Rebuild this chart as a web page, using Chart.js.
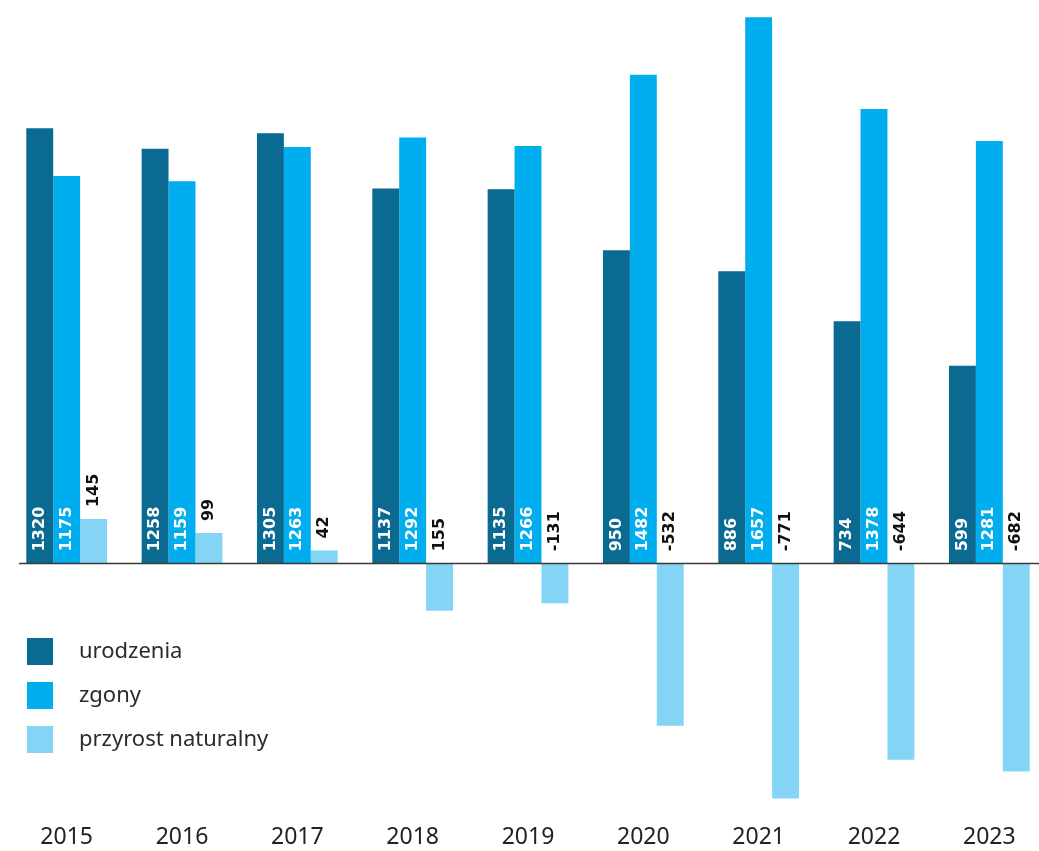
<!DOCTYPE html>
<html>
<head>
<meta charset="utf-8">
<script src="https://cdn.jsdelivr.net/npm/chart.js@4"></script>
<style>
  html, body { margin: 0; padding: 0; background: #fff; overflow: hidden; }
  #wrap { width: 1048px; height: 851px; }
</style>
</head>
<body>
<div id="wrap"><canvas id="chart"></canvas></div>
<script>
var years = ['2015', '2016', '2017', '2018', '2019', '2020', '2021', '2022', '2023'];
var urodzenia = [1320, 1258, 1305, 1137, 1135, 950, 886, 734, 599];
var zgony = [1175, 1159, 1263, 1292, 1266, 1482, 1657, 1378, 1281];
var przyrost = [145, 99, 42, -155, -131, -532, -771, -644, -682];
// labels as printed in the source (2018 has no minus sign there)
var przyrostLabels = ['145', '99', '42', '155', '-131', '-532', '-771', '-644', '-682'];

var colors = ['#0a6a92', '#00adee', '#84d5f5'];

var valueLabels = {
  id: 'valueLabels',
  afterDatasetsDraw: function (chart) {
    var ctx = chart.ctx;
    ctx.save();
    ctx.font = 'bold 16px "DejaVu Sans"';
    ctx.textBaseline = 'middle';
    chart.data.datasets.forEach(function (ds, i) {
      var meta = chart.getDatasetMeta(i);
      var zeroY = chart.scales.y.getPixelForValue(0);
      meta.data.forEach(function (bar, j) {
        var v = ds.data[j];
        var txt, y;
        if (i < 2) {
          ctx.fillStyle = '#ffffff';
          txt = String(v);
          y = zeroY - 12;
        } else {
          ctx.fillStyle = '#111111';
          txt = przyrostLabels[j];
          y = v > 0 ? bar.y - 12 : zeroY - 12;
        }
        ctx.save();
        ctx.translate(bar.x, y);
        ctx.rotate(-Math.PI / 2);
        ctx.textAlign = 'left';
        ctx.fillText(txt, 0, 0);
        ctx.restore();
      });
    });
    ctx.restore();
  }
};

var zeroLine = {
  id: 'zeroLine',
  afterDatasetsDraw: function (chart) {
    var ctx = chart.ctx;
    var y = Math.round(chart.scales.y.getPixelForValue(0)) + 0.5;
    ctx.save();
    ctx.strokeStyle = '#3a3a3a';
    ctx.lineWidth = 1.3;
    ctx.beginPath();
    ctx.moveTo(19, y);
    ctx.lineTo(chart.width, y);
    ctx.stroke();
    ctx.restore();
  }
};

var sideLegend = {
  id: 'sideLegend',
  afterDraw: function (chart) {
    var ctx = chart.ctx;
    ctx.save();
    ctx.font = '22px "Noto Sans"';
    ctx.textBaseline = 'middle';
    ctx.textAlign = 'left';
    var tops = [638, 682, 726];
    chart.data.datasets.forEach(function (ds, i) {
      ctx.fillStyle = ds.backgroundColor;
      ctx.fillRect(27, tops[i], 26, 27);
      ctx.fillStyle = '#2b2b2b';
      ctx.fillText(ds.label, 79, tops[i] + 14);
    });
    ctx.restore();
  }
};

new Chart(document.getElementById('chart'), {
  type: 'bar',
  data: {
    labels: years,
    datasets: [
      { label: 'urodzenia', data: urodzenia, backgroundColor: colors[0], yAxisID: 'y' },
      { label: 'zgony', data: zgony, backgroundColor: colors[1], yAxisID: 'y' },
      { label: 'przyrost naturalny', data: przyrost, backgroundColor: colors[2], yAxisID: 'y2' }
    ]
  },
  options: {
    responsive: true,
    maintainAspectRatio: false,
    animation: false,
    layout: { padding: { left: 9, right: 1, top: 0, bottom: 0 } },
    datasets: {
      bar: { categoryPercentage: 0.7, barPercentage: 1.0, borderWidth: 0 }
    },
    scales: {
      x: {
        grid: { display: false },
        border: { display: false },
        ticks: {
          color: '#222',
          padding: 0,
          font: { family: '"Noto Sans"', size: 23 }
        }
      },
      y: {
        display: false,
        min: -765,
        max: 1709
      },
      y2: {
        display: false,
        min: -826,
        max: 1846
      }
    },
    plugins: {
      legend: { display: false },
      tooltip: { enabled: false }
    }
  },
  plugins: [zeroLine, valueLabels, sideLegend]
});
</script>
</body>
</html>
